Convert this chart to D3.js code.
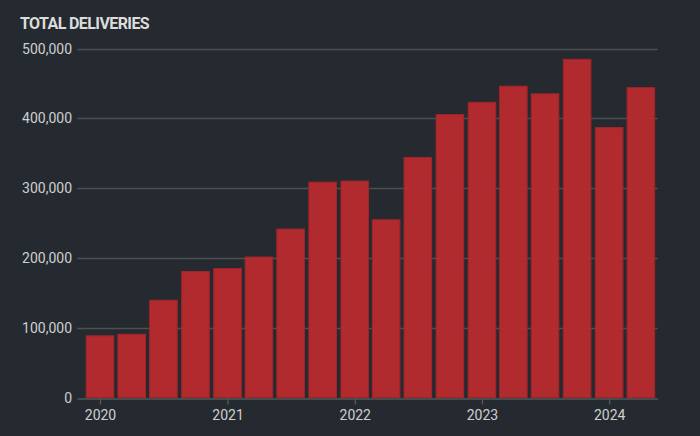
<!DOCTYPE html>
<html>
<head>
<meta charset="utf-8">
<script src="https://cdn.jsdelivr.net/npm/d3@7"></script>
<style>
  html, body { margin: 0; padding: 0; background: #252a31; }
  svg { display: block; }
</style>
</head>
<body>
<svg id="chart" width="700" height="436"></svg>
<script>
// Data
const quarters = ["2020-01-01","2020-04-01","2020-07-01","2020-10-01",
                  "2021-01-01","2021-04-01","2021-07-01","2021-10-01",
                  "2022-01-01","2022-04-01","2022-07-01","2022-10-01",
                  "2023-01-01","2023-04-01","2023-07-01","2023-10-01",
                  "2024-01-01","2024-04-01"];
const deliveries = [88400, 90650, 139300, 180570,
                    184800, 201250, 241300, 308600,
                    310048, 254695, 343830, 405278,
                    422875, 446000, 435059, 484507,
                    386810, 443956];
const yTicks = [0, 100000, 200000, 300000, 400000, 500000];
const title = "TOTAL DELIVERIES";

const W = 700, H = 436;
const svg = d3.select("#chart");
const parse = d3.utcParse("%Y-%m-%d");
const dates = quarters.map(parse);

const x = d3.scaleUtc()
  .domain([d3.utcDay.offset(dates[0], -66), d3.utcDay.offset(dates[dates.length-1], 48)])
  .range([77, 657.6]);
const y = d3.scaleLinear().domain([0, 500000]).range([397.5, 48.5]);

const font = "Roboto, 'Liberation Sans', sans-serif";

// Title
svg.append("text")
  .attr("x", 20).attr("y", 29)
  .attr("fill", "#dcdcdc")
  .attr("font-family", font)
  .attr("font-weight", "bold")
  .attr("font-size", 16)
  .attr("letter-spacing", -0.6)
  .text(title);

// Gridlines
const grid = svg.append("g");
grid.selectAll("line").data(yTicks.filter(d => d > 0)).join("line")
  .attr("x1", x.range()[0]).attr("x2", x.range()[1])
  .attr("y1", d => Math.round(y(d)) + 0.5).attr("y2", d => Math.round(y(d)) + 0.5)
  .attr("stroke", "#4e4f51").attr("stroke-width", 1.6);

// Y labels
svg.append("g").selectAll("text").data(yTicks).join("text")
  .attr("x", 72).attr("y", d => y(d)).attr("dy", "0.36em")
  .attr("text-anchor", "end")
  .attr("fill", "#cfcfcf")
  .attr("font-family", font)
  .attr("font-size", 14)
  .text(d3.format(","));

// Bars
const bw = 27.6;
svg.append("g").selectAll("rect").data(deliveries).join("rect")
  .attr("x", (d, i) => x(dates[i]) - bw / 2)
  .attr("width", bw)
  .attr("y", d => y(d))
  .attr("height", d => y(0) - y(d))
  .attr("fill", "#bb2a2e")
  .attr("fill-opacity", 0.93)
  .attr("stroke", "#a32428")
  .attr("stroke-width", 1);

// X axis
const xAxis = d3.axisBottom(x)
  .ticks(d3.utcYear.every(1))
  .tickFormat(d3.utcFormat("%Y"))
  .tickSize(6)
  .tickSizeOuter(0);
const gx = svg.append("g")
  .attr("transform", `translate(0,${Math.round(y(0)) + 0.5})`)
  .call(xAxis);
gx.select(".domain").attr("stroke", "#555759").attr("stroke-width", 1.6);
gx.selectAll(".tick line").attr("stroke", "#555759").attr("stroke-width", 1.4);
gx.selectAll(".tick text")
  .attr("fill", "#cfcfcf")
  .attr("font-family", font)
  .attr("font-size", 14)
  .attr("dy", "0.95em")
  .attr("y", 8);
</script>
</body>
</html>
